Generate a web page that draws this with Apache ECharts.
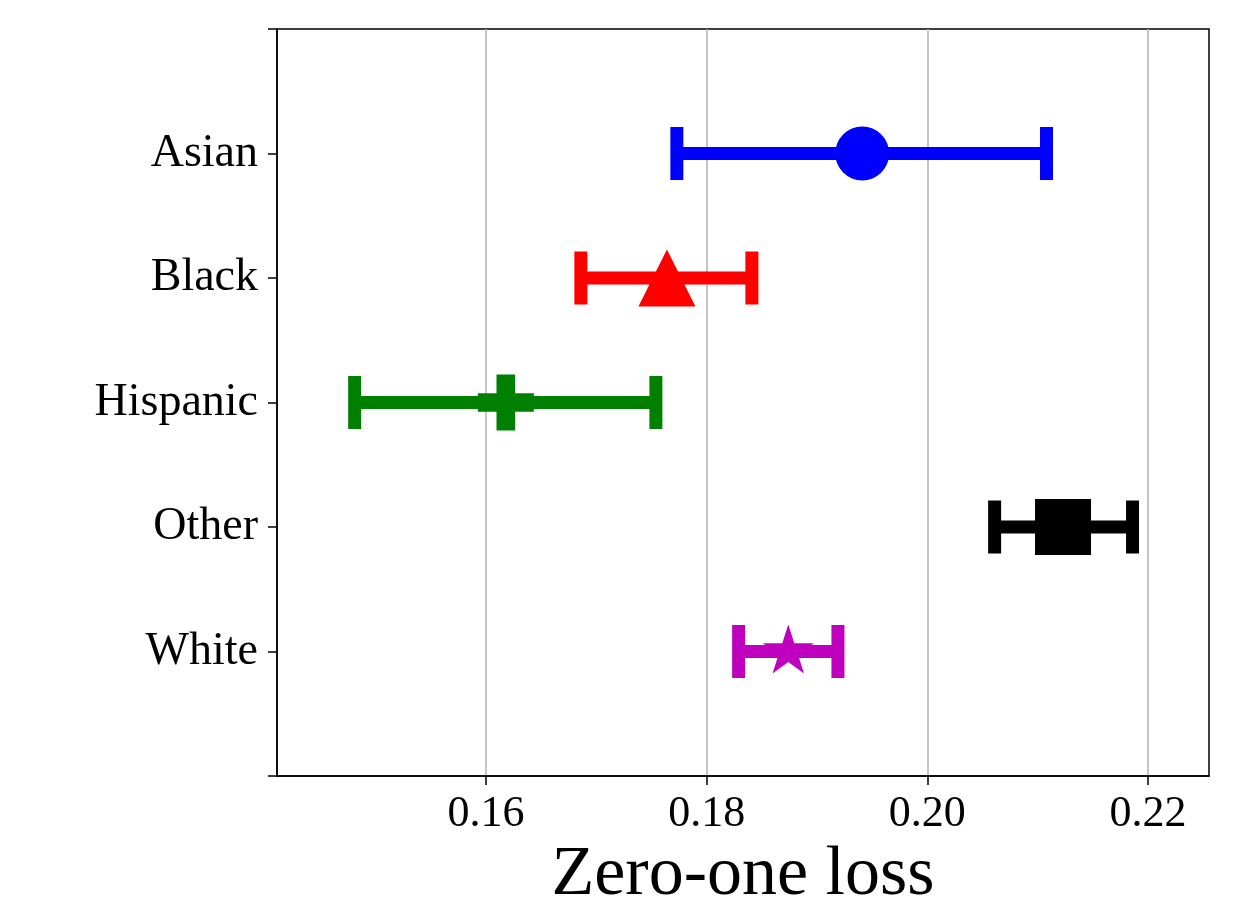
<!DOCTYPE html>
<html>
<head>
<meta charset="utf-8">
<script src="https://cdn.jsdelivr.net/npm/echarts@6/dist/echarts.min.js"></script>
<style>
html,body{margin:0;padding:0;background:#fff;}
#chart{width:1235px;height:909px;}
</style>
</head>
<body>
<div id="chart"></div>
<script>
// ---- data ----
const categories = ['Asian', 'Black', 'Hispanic', 'Other', 'White'];
const meanLoss  = [0.1941, 0.1764, 0.1618, 0.2123, 0.1874];
const lowerLoss = [0.1773, 0.1686, 0.1481, 0.2061, 0.1829];
const upperLoss = [0.2108, 0.1841, 0.1754, 0.2186, 0.1919];
const colors    = ['#0000ff', '#ff0000', '#008000', '#000000', '#bf00bf'];
const xTicks    = [0.16, 0.18, 0.20, 0.22];
const xTitle    = 'Zero-one loss';

const FONT = 'Liberation Serif';
const plusPath = 'path://M2,0L4,0L4,2L6,2L6,4L4,4L4,6L2,6L2,4L0,4L0,2L2,2Z';
// 5-point star, outer radius 1 centered at (0,0)
function starPath(){
  const pts = [];
  const rIn = 0.382;
  for (let i = 0; i < 10; i++) {
    const r = i % 2 === 0 ? 1 : rIn;
    const a = -Math.PI/2 + i*Math.PI/5;
    pts.push((r*Math.cos(a)).toFixed(4) + ',' + (r*Math.sin(a)).toFixed(4));
  }
  return 'path://M' + pts.join('L') + 'Z';
}
const markerSymbols = ['circle', 'triangle', plusPath, 'rect', starPath()];
const markerSizes = [54, 57, 56, 56, [51, 49]];
const markerOffsets = [[0,0],[0,0],[0,0],[0,0],[0,-2.5]];

const series = [];
categories.forEach((c, i) => {
  series.push({
    type: 'custom',
    name: c + ' err',
    z: 2,
    data: [[lowerLoss[i], upperLoss[i], i]],
    renderItem: function(params, api){
      const p1 = api.coord([api.value(0), api.value(2)]);
      const p2 = api.coord([api.value(1), api.value(2)]);
      const lw = 13, capH = 53;
      const style = {stroke: colors[i], lineWidth: lw, fill: null};
      return {
        type: 'group',
        children: [
          {type:'line', shape:{x1:p1[0], y1:p1[1], x2:p2[0], y2:p2[1]}, style: style},
          {type:'line', shape:{x1:p1[0], y1:p1[1]-capH/2, x2:p1[0], y2:p1[1]+capH/2}, style: style},
          {type:'line', shape:{x1:p2[0], y1:p2[1]-capH/2, x2:p2[0], y2:p2[1]+capH/2}, style: style}
        ]
      };
    }
  });
  series.push({
    type: 'scatter',
    name: c,
    z: 5,
    symbol: markerSymbols[i],
    symbolSize: markerSizes[i],
    symbolOffset: markerOffsets[i],
    itemStyle: {color: colors[i], opacity: 1},
    data: [[meanLoss[i], i]]
  });
});

const chart = echarts.init(document.getElementById('chart'));
chart.setOption({
  animation: false,
  backgroundColor: '#fff',
  grid: {left: 277, top: 29, width: 932, height: 747, containLabel: false, outerBoundsMode: 'none',
         show: true, borderColor: '#000', borderWidth: 1.5, backgroundColor: 'transparent'},
  xAxis: {
    type: 'value',
    min: 0.14106,
    max: 0.22553,
    axisLine: {show: true, onZero: false, lineStyle: {color: '#000', width: 1.5}},
    axisTick: {show: true, customValues: xTicks, length: 9, lineStyle: {color: '#000', width: 1.5}},
    axisLabel: {show: true, customValues: xTicks, formatter: v => v.toFixed(2), fontFamily: FONT, fontSize: 44, color: '#000', margin: 16},
    splitLine: {show: true, lineStyle: {color: '#b0b0b0', width: 1.5}},
    name: xTitle,
    nameLocation: 'middle',
    nameGap: 63,
    nameTextStyle: {fontFamily: FONT, fontSize: 70, color: '#000', verticalAlign: 'top'}
  },
  yAxis: {
    type: 'value',
    inverse: true,
    min: -1,
    max: 5,
    interval: 1,
    axisLine: {show: true, onZero: false, lineStyle: {color: '#000', width: 1.5}},
    axisTick: {show: true, length: 9, lineStyle: {color: '#000', width: 1.5}},
    axisLabel: {
      show: true,
      showMinLabel: true, showMaxLabel: true,
      formatter: v => (v >= 0 && v < categories.length) ? categories[v] : '',
      fontFamily: FONT, fontSize: 46, color: '#000', margin: 19
    },
    splitLine: {show: false}
  },
  series: series
});
</script>
</body>
</html>
